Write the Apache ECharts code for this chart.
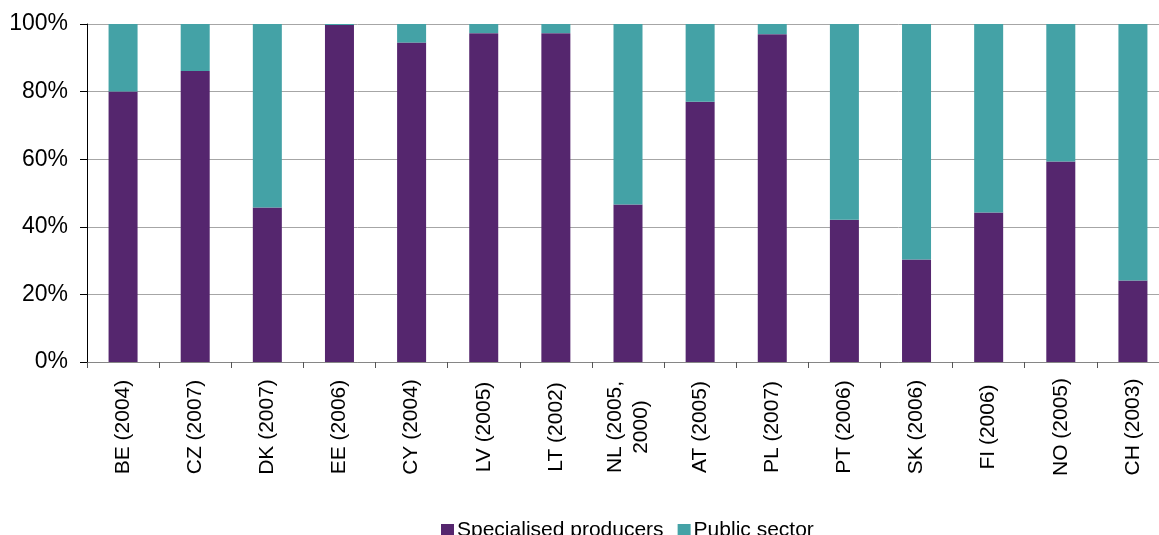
<!DOCTYPE html>
<html lang="en">
<head>
   <meta charset="UTF-8">
   <title>Specialised producers vs public sector</title>
   <script src="https://cdn.jsdelivr.net/npm/echarts@6/dist/echarts.min.js"></script>
   <style type="text/css">
   body{margin:0; padding:0; background:#fff; overflow:hidden;}
   #main{width:1169px;height:535px;}
   </style>
</head>
<body>
<div id="main"></div>
<script type="text/javascript">
var categories = ['BE (2004)', 'CZ (2007)', 'DK (2007)', 'EE (2006)', 'CY (2004)', 'LV (2005)', 'LT (2002)',
                  'NL (2005,\n2000)', 'AT (2005)', 'PL (2007)', 'PT (2006)', 'SK (2006)', 'FI (2006)', 'NO (2005)', 'CH (2003)'];
var specialised = [80.0, 86.1, 45.7, 99.7, 94.5, 97.3, 97.3, 46.6, 77.0, 97.0, 42.1, 30.3, 44.2, 59.3, 24.1];
var publicSector = [20.0, 13.9, 54.3, 0.3, 5.5, 2.7, 2.7, 53.4, 23.0, 3.0, 57.9, 69.7, 55.8, 40.7, 75.9];
var yTicks = [0, 20, 40, 60, 80, 100];

var font = 'Arial, "Liberation Sans", sans-serif';
var myChart = echarts.init(document.getElementById('main'));
var option = {
    animation: false,
    textStyle: {fontFamily: font},
    legend: {
        data: ['Specialised producers', 'Public sector'],
        left: 436,
        top: 515,
        itemWidth: 13,
        itemHeight: 13,
        itemGap: 14,
        icon: 'rect',
        textStyle: {fontSize: 21, color: '#000', fontFamily: font, padding: [0, 0, 0, -2]}
    },
    // chart div is 10px wider than the window: the last category runs off the right edge
    grid: {left: 87, right: 0, top: 24, bottom: 173, containLabel: false},
    xAxis: {
        type: 'category',
        data: categories,
        axisLine: {lineStyle: {color: '#868686', width: 1}},
        axisTick: {show: true, length: 6, lineStyle: {color: '#555'}},
        axisLabel: {
            rotate: 90,
            align: 'center',
            verticalAlign: 'middle',
            margin: 65,
            fontSize: 21,
            lineHeight: 26,
            color: '#000',
            fontFamily: font,
            interval: 0
        }
    },
    yAxis: {
        type: 'value',
        min: yTicks[0],
        max: yTicks[yTicks.length - 1],
        interval: 20,
        axisLine: {show: true, lineStyle: {color: '#000', width: 1}},
        axisTick: {show: true, length: 7, lineStyle: {color: '#000'}},
        splitLine: {lineStyle: {color: '#a6a6a6', width: 1}},
        axisLabel: {
            formatter: '{value}%',
            fontSize: 23,
            color: '#000',
            margin: 19,
            fontFamily: font
        }
    },
    series: [
        {
            name: 'Specialised producers',
            type: 'bar',
            stack: 'total',
            barWidth: 29,
            itemStyle: {color: '#55266E'},
            data: specialised
        },
        {
            name: 'Public sector',
            type: 'bar',
            stack: 'total',
            barWidth: 29,
            itemStyle: {color: '#44A2A6'},
            data: publicSector
        }
    ]
};
myChart.setOption(option);
</script>
</body>
</html>
